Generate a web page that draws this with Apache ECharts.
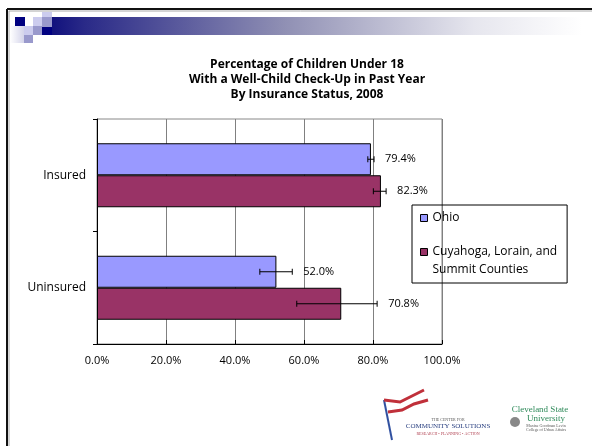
<!DOCTYPE html>
<html><head><meta charset="utf-8">
<script src="https://cdn.jsdelivr.net/npm/echarts@6/dist/echarts.min.js"></script>
<style>html,body{margin:0;padding:0;background:#fff}#c{width:592px;height:446px}</style>
</head><body><div id="c"></div>
<script>
var categories = ['Insured', 'Uninsured'];
var seriesNames = ['Ohio', 'Cuyahoga, Lorain, and Summit Counties'];
var ohioValues = [79.4, 52.0];
var cuyValues = [82.3, 70.8];
var ohioLow = [78.5, 47.2];
var ohioHigh = [80.3, 56.6];
var cuyLow = [80.1, 57.9];
var cuyHigh = [83.8, 81.2];
var xTicks = [0, 20, 40, 60, 80, 100];
var titleLines = ['Percentage of Children Under 18', 'With a Well-Child Check-Up in Past Year', 'By Insurance Status, 2008'];

var FONT = '"Open Sans", Lato, sans-serif';
var chart = echarts.init(document.getElementById('c'));

function errData(vals, lows, highs) {
  return vals.map(function (v, i) { return [lows[i], highs[i], i, v]; });
}
function makeErr(offset) {
  return function (params, api) {
    var ci = api.value(2);
    var lo = api.coord([api.value(0), ci]);
    var hi = api.coord([api.value(1), ci]);
    var vc = api.coord([api.value(3), ci]);
    var y = lo[1] + offset;
    var v = api.value(3);
    var lx = Math.max(hi[0], vc[0]) + 11;
    var st = { stroke: '#000', lineWidth: 1 };
    return {
      type: 'group',
      children: [
        { type: 'line', shape: { x1: lo[0], y1: y, x2: hi[0], y2: y }, style: st },
        { type: 'line', shape: { x1: lo[0], y1: y - 3, x2: lo[0], y2: y + 3 }, style: st },
        { type: 'line', shape: { x1: hi[0], y1: y - 3, x2: hi[0], y2: y + 3 }, style: st },
        { type: 'text', x: lx, y: y, style: { text: v.toFixed(1) + '%', fill: '#000', font: '11px ' + FONT, textVerticalAlign: 'middle' } }
      ]
    };
  };
}

var option = {
  backgroundColor: '#fff',
  animation: false,
  title: {
    text: titleLines.join('\n'),
    left: 302, textAlign: 'center', top: 52,
    textStyle: { fontFamily: FONT, fontWeight: 'bold', fontSize: 12, lineHeight: 15, color: '#000' }
  },
  legend: {
    orient: 'vertical',
    left: 412, top: 205,
    data: seriesNames,
    icon: 'rect', itemWidth: 7, itemHeight: 7, itemGap: 4,
    borderColor: '#000', borderWidth: 1,
    padding: [7, 10, 7, 8],
    itemStyle: { borderColor: '#000', borderWidth: 1 },
    formatter: function (n) {
      if (n === seriesNames[1]) return '{t| }\n{t|Cuyahoga, Lorain, and}\n{t|Summit Counties}';
      return '{t|' + n + '}';
    },
    textStyle: { rich: { t: { fontFamily: FONT, fontSize: 12, lineHeight: 18, color: '#000' } } }
  },
  grid: { left: 97, right: 150, top: 119, bottom: 102, show: true, borderColor: '#888', borderWidth: 1 },
  xAxis: {
    type: 'value', min: xTicks[0], max: xTicks[xTicks.length - 1], interval: 20,
    axisLine: { show: true, lineStyle: { color: '#000' } },
    axisTick: { show: true, inside: true, length: 4, lineStyle: { color: '#000' } },
    splitLine: { show: true, lineStyle: { color: '#808080', width: 1 } },
    axisLabel: { fontFamily: FONT, fontSize: 11, color: '#000', margin: 11, formatter: function (v) { return v.toFixed(1) + '%'; } }
  },
  yAxis: {
    type: 'category', data: categories, inverse: true,
    axisLine: { show: true, lineStyle: { color: '#000' } },
    axisTick: { show: true, length: 4, lineStyle: { color: '#000' } },
    splitLine: { show: false },
    axisLabel: { fontFamily: FONT, fontSize: 12, color: '#000', margin: 11 }
  },
  series: [
    { name: seriesNames[0], type: 'bar', data: ohioValues, barWidth: 32, barGap: '0%',
      itemStyle: { color: '#9999FF', borderColor: '#000', borderWidth: 1 } },
    { name: seriesNames[1], type: 'bar', data: cuyValues, barWidth: 32, barGap: '0%',
      itemStyle: { color: '#993366', borderColor: '#000', borderWidth: 1 } },
    { type: 'custom', renderItem: makeErr(-16), data: errData(ohioValues, ohioLow, ohioHigh),
      encode: { x: [0, 1], y: 2 }, z: 5, silent: true },
    { type: 'custom', renderItem: makeErr(16), data: errData(cuyValues, cuyLow, cuyHigh),
      encode: { x: [0, 1], y: 2 }, z: 5, silent: true }
  ],
  graphic: [
    { type: 'line', shape: { x1: 7, y1: 9, x2: 592, y2: 9 }, style: { stroke: '#111', lineWidth: 2 } },
    { type: 'line', shape: { x1: 7, y1: 9, x2: 7, y2: 446 }, style: { stroke: '#111', lineWidth: 2 } },
    { type: 'line', shape: { x1: 9, y1: 11, x2: 592, y2: 11 }, style: { stroke: '#aaa', lineWidth: 1 } },
    { type: 'line', shape: { x1: 9, y1: 11, x2: 9, y2: 446 }, style: { stroke: '#aaa', lineWidth: 1 } },
    { type: 'rect', shape: { x: 42, y: 17, width: 540, height: 18 },
      style: { fill: new echarts.graphic.LinearGradient(0, 0, 1, 0, [
        { offset: 0, color: '#0a0a7a' }, { offset: 0.08, color: '#2a2a88' },
        { offset: 0.45, color: '#9090b4' }, { offset: 0.8, color: '#e6e6ee' }, { offset: 1, color: '#ffffff' }]) } },
    { type: 'rect', shape: { x: 10, y: 26, width: 14, height: 17 },
      style: { fill: new echarts.graphic.LinearGradient(0, 0, 1, 0, [{ offset: 0, color: '#ffffff' }, { offset: 1, color: '#d4d4ea' }]) } },
    { type: 'rect', shape: { x: 15, y: 17, width: 10, height: 9 }, style: { fill: '#000080' } },
    { type: 'rect', shape: { x: 33, y: 17, width: 9, height: 9 }, style: { fill: '#ccccee' } },
    { type: 'rect', shape: { x: 42, y: 12, width: 10, height: 5 }, style: { fill: '#ccccee' } },
    { type: 'rect', shape: { x: 42, y: 17, width: 10, height: 10 }, style: { fill: '#9999cc' } },
    { type: 'rect', shape: { x: 24, y: 26, width: 9, height: 9 }, style: { fill: '#ccccee' } },
    { type: 'rect', shape: { x: 33, y: 26, width: 9, height: 9 }, style: { fill: '#9999cc' } },
    { type: 'rect', shape: { x: 42, y: 27, width: 10, height: 8 }, style: { fill: '#000080' } },
    { type: 'rect', shape: { x: 24, y: 35, width: 9, height: 8 }, style: { fill: '#9999cc' } },
    { type: 'polyline', shape: { points: [[384, 400], [392, 440]] }, style: { stroke: '#3050a0', lineWidth: 2 } },
    { type: 'polyline', shape: { points: [[384, 400], [400, 402], [412, 396], [424, 390]] }, style: { stroke: '#c0303a', lineWidth: 3 } },
    { type: 'polyline', shape: { points: [[388, 412], [402, 410], [414, 404], [428, 400]] }, style: { stroke: '#c0303a', lineWidth: 3 } },
    { type: 'text', x: 448, y: 418, style: { text: 'THE CENTER FOR', fill: '#555', font: '4px serif', textAlign: 'center' } },
    { type: 'text', x: 448, y: 423, style: { text: 'COMMUNITY SOLUTIONS', fill: '#2a4080', font: '7px serif', textAlign: 'center' } },
    { type: 'text', x: 448, y: 432, style: { text: 'RESEARCH • PLANNING • ACTION', fill: '#b04050', font: '4px serif', textAlign: 'center' } },
    { type: 'text', x: 540, y: 405, style: { text: 'Cleveland State', fill: '#2f8a5a', font: '9px serif', textAlign: 'center' } },
    { type: 'text', x: 546, y: 414, style: { text: 'University', fill: '#2f8a5a', font: '9px serif', textAlign: 'center' } },
    { type: 'circle', shape: { cx: 515, cy: 422, r: 5 }, style: { fill: '#888' } },
    { type: 'text', x: 546, y: 424, style: { text: 'Maxine Goodman Levin\nCollege of Urban Affairs', fill: '#555', font: '4px serif', textAlign: 'center' } }
  ]
};
chart.setOption(option);
</script></body></html>
